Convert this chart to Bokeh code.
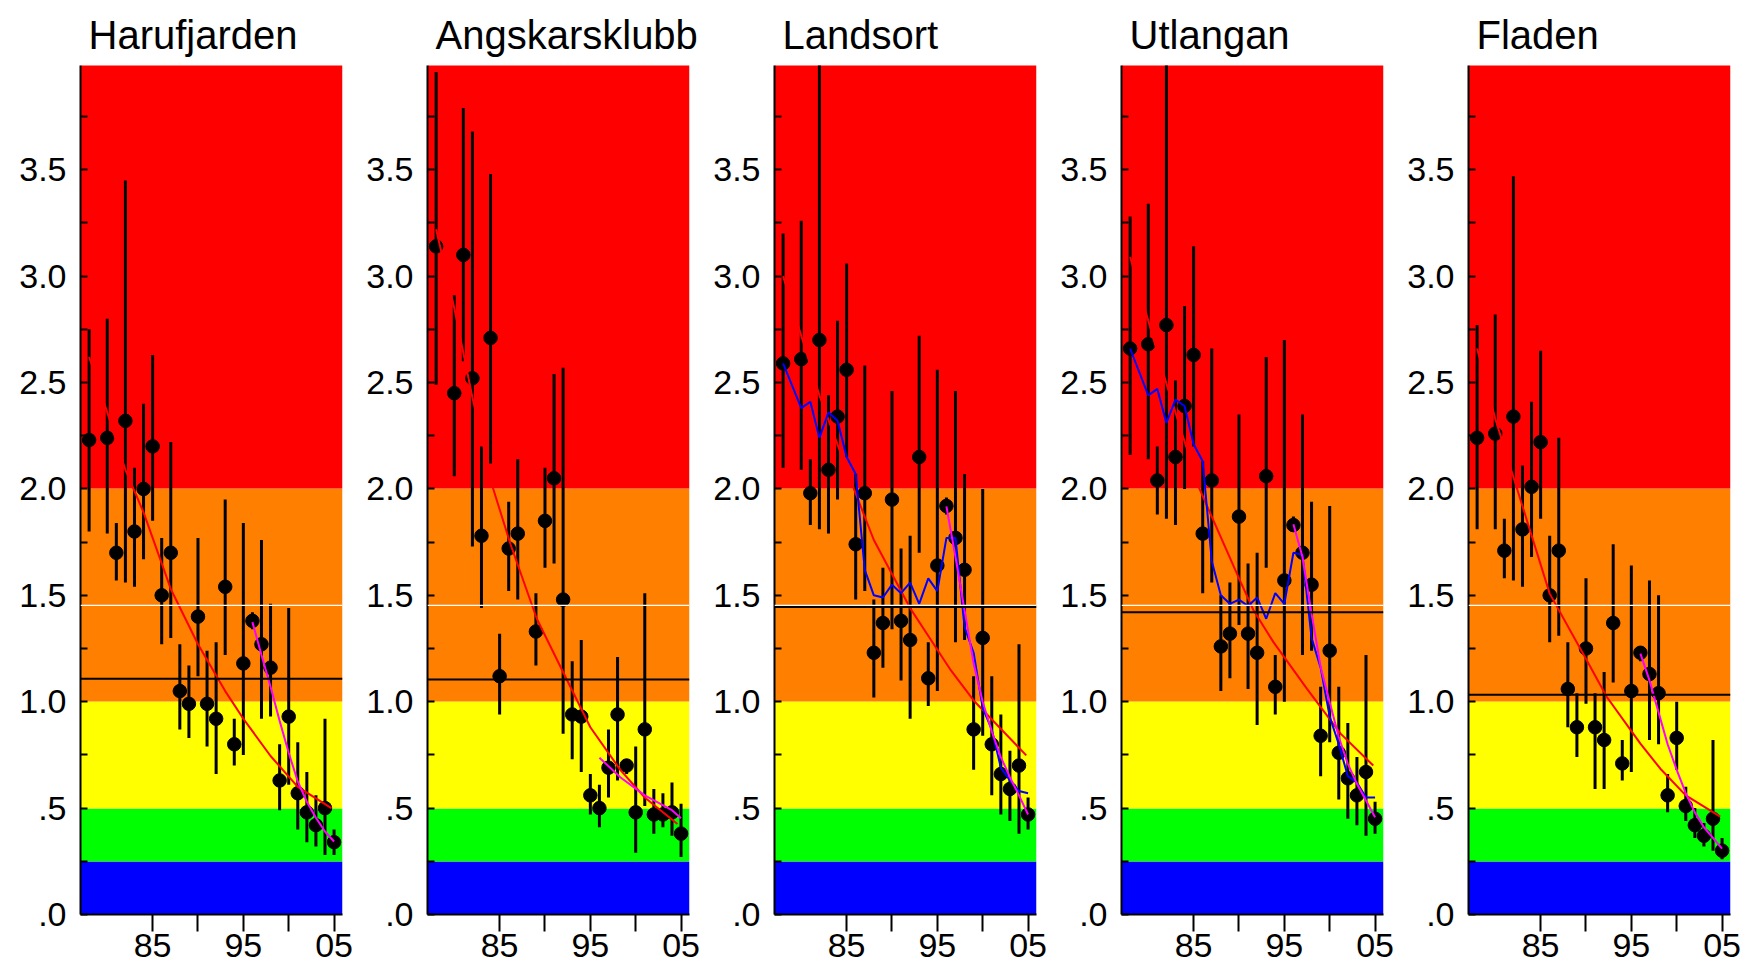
from bokeh.plotting import figure
from bokeh.layouts import row
from bokeh.models import Span, FixedTicker, Range1d, PrintfTickFormatter
from bokeh.embed import file_html
from bokeh.resources import INLINE

FONT = "Liberation Sans"

# ---- colour bands (status classes) ----
band_lo = [0.0, 0.25, 0.5, 1.0, 2.0]
band_hi = [0.25, 0.5, 1.0, 2.0, 4.0]
band_colors = ["#0000FF", "#00FF00", "#FFFF00", "#FF7F00", "#FF0000"]
target_level = 1.453

x_ticks = [1985, 1990, 1995, 2000, 2005]
x_tick_labels = {1985: "85", 1990: "", 1995: "95", 2000: "", 2005: "05"}
y_major = [0.0, 0.5, 1.0, 1.5, 2.0, 2.5, 3.0, 3.5]
y_minor = [0.25, 0.75, 1.25, 1.75, 2.25, 2.75, 3.25, 3.75]

stations = ["Harufjarden", "Angskarsklubb", "Landsort", "Utlangan", "Fladen"]

years_full = [1978, 1980, 1981, 1982, 1983, 1984, 1985, 1986, 1987, 1988, 1989,
              1990, 1991, 1992, 1993, 1994, 1995, 1996, 1997, 1998, 1999, 2000,
              2001, 2002, 2003, 2004, 2005]
years_angs = [1978, 1980, 1981, 1982, 1983, 1984, 1985, 1986, 1987, 1989,
              1990, 1991, 1992, 1993, 1994, 1995, 1996, 1997, 1998, 1999, 2000,
              2001, 2002, 2003, 2004, 2005]

# ---- Harufjarden ----
val_haru = [2.23, 2.24, 1.70, 2.32, 1.80, 2.00, 2.20, 1.50, 1.70, 1.05, 0.99, 1.40, 0.99, 0.92,
            1.54, 0.80, 1.18, 1.38, 1.27, 1.16, 0.63, 0.93, 0.57, 0.48, 0.42, 0.50, 0.34]
lo_haru = [1.80, 1.79, 1.57, 1.56, 1.54, 1.67, 1.85, 1.27, 1.30, 0.87, 0.83, 1.12, 0.79, 0.66,
           1.22, 0.70, 0.75, 1.34, 0.92, 0.93, 0.49, 0.61, 0.40, 0.34, 0.32, 0.28, 0.28]
hi_haru = [2.75, 2.80, 1.84, 3.45, 2.10, 2.40, 2.63, 1.77, 2.22, 1.27, 1.17, 1.77, 1.24, 1.28,
           1.95, 0.92, 1.84, 1.42, 1.76, 1.46, 0.80, 1.44, 0.81, 0.67, 0.56, 0.92, 0.40]
mean_haru = 1.108
fit_x_haru = [1978, 1980, 1982, 1984, 1987, 1990, 1993, 1995, 1998, 2001, 2004.7]
fit_y_haru = [2.62, 2.36, 2.09, 1.89, 1.53, 1.27, 1.05, 0.92, 0.745, 0.60, 0.50]
trend_x_haru = [1996, 1997, 1998, 1999, 2000, 2001, 2002, 2003, 2004, 2005]
trend_y_haru = [1.374, 1.22, 1.07, 0.91, 0.76, 0.625, 0.53, 0.455, 0.39, 0.343]

# ---- Angskarsklubb ----
val_angs = [3.14, 2.45, 3.10, 2.52, 1.78, 2.71, 1.12, 1.72, 1.79, 1.33, 1.85, 2.05, 1.48,
            0.94, 0.93, 0.56, 0.50, 0.69, 0.94, 0.70, 0.48, 0.87, 0.47, 0.47, 0.48, 0.38]
lo_angs = [2.49, 2.06, 2.60, 1.73, 1.44, 2.12, 0.94, 1.52, 1.48, 1.17, 1.63, 1.65, 0.85,
           0.73, 0.67, 0.47, 0.41, 0.55, 0.63, 0.66, 0.29, 0.51, 0.38, 0.41, 0.37, 0.27]
hi_angs = [3.96, 2.91, 3.79, 3.68, 2.20, 3.48, 1.32, 1.94, 2.14, 1.51, 2.10, 2.54, 2.57,
           1.19, 1.29, 0.66, 0.61, 0.87, 1.21, 0.73, 0.79, 1.51, 0.59, 0.57, 0.62, 0.52]
mean_angs = 1.105
fit_x_angs = [1978, 1980, 1982, 1984.3, 1986.2, 1989.1, 1992.1, 1995, 1998.3, 2001, 2004.6]
fit_y_angs = [3.22, 2.85, 2.43, 2.0, 1.74, 1.39, 1.13, 0.88, 0.68, 0.55, 0.425]
trend_x_angs = [1996, 1998.3, 2001, 2004, 2005]
trend_y_angs = [0.737, 0.645, 0.56, 0.49, 0.452]

# ---- Landsort ----
val_land = [2.59, 2.61, 1.98, 2.70, 2.09, 2.34, 2.56, 1.74, 1.98, 1.23, 1.37, 1.95, 1.38, 1.29,
            2.15, 1.11, 1.64, 1.92, 1.77, 1.62, 0.87, 1.30, 0.80, 0.66, 0.59, 0.70, 0.47]
lo_land = [2.10, 2.09, 1.83, 1.81, 1.79, 1.95, 2.15, 1.48, 1.52, 1.02, 1.16, 1.34, 1.10, 0.92,
           1.70, 0.98, 1.05, 1.88, 1.28, 1.29, 0.68, 0.84, 0.56, 0.47, 0.44, 0.38, 0.40]
hi_land = [3.20, 3.26, 2.14, 4.20, 2.44, 2.79, 3.06, 2.07, 2.58, 1.48, 1.63, 2.46, 1.72, 1.78,
           2.72, 1.28, 2.56, 1.96, 2.46, 2.07, 1.12, 2.00, 1.12, 0.94, 0.77, 1.27, 0.55]
smooth_land = [2.59, 2.38, 2.41, 2.24, 2.36, 2.32, 2.15, 2.07, 1.62, 1.50, 1.49, 1.55, 1.51, 1.56,
               1.46, 1.58, 1.52, 1.77, 1.77, 1.35, 1.23, 0.97, 0.87, 0.69, 0.63, 0.58, 0.57]
mean_land = 1.445
fit_x_land = [1978, 1980, 1982, 1985.8, 1988, 1992, 1994.3, 1996.5, 1999, 2004.8]
fit_y_land = [3.0, 2.72, 2.44, 2.0, 1.76, 1.44, 1.29, 1.147, 1.006, 0.748]
trend_x_land = [1996, 1997, 1998, 1999, 2000, 2001, 2002, 2003, 2004, 2005]
trend_y_land = [1.918, 1.68, 1.43, 1.18, 1.0, 0.86, 0.74, 0.645, 0.56, 0.47]

# ---- Utlangan ----
val_utla = [2.66, 2.68, 2.04, 2.77, 2.15, 2.39, 2.63, 1.79, 2.04, 1.26, 1.32, 1.87, 1.32, 1.23,
            2.06, 1.07, 1.57, 1.83, 1.70, 1.55, 0.84, 1.24, 0.76, 0.64, 0.56, 0.67, 0.45]
lo_utla = [2.16, 2.14, 1.88, 1.86, 1.83, 2.00, 2.20, 1.51, 1.56, 1.05, 1.11, 1.36, 1.06, 0.89,
           1.63, 0.94, 1.00, 1.80, 1.22, 1.24, 0.65, 0.81, 0.54, 0.45, 0.42, 0.37, 0.38]
hi_utla = [3.28, 3.34, 2.20, 4.20, 2.51, 2.86, 3.14, 2.13, 2.66, 1.50, 1.56, 2.35, 1.65, 1.70,
           2.62, 1.22, 2.70, 1.87, 2.35, 1.94, 1.07, 1.92, 1.07, 0.90, 0.74, 1.22, 0.53]
smooth_utla = [2.66, 2.44, 2.47, 2.31, 2.42, 2.39, 2.21, 2.13, 1.66, 1.50, 1.46, 1.48, 1.45, 1.49,
               1.39, 1.51, 1.46, 1.70, 1.69, 1.30, 1.16, 0.93, 0.80, 0.65, 0.62, 0.55, 0.55]
mean_utla = 1.42
fit_x_utla = [1978, 1980, 1982, 1985.65, 1990.1, 1991.6, 1993.8, 1997.5, 2001.2, 2004.8]
fit_y_utla = [3.09, 2.79, 2.495, 2.0, 1.57, 1.43, 1.28, 1.06, 0.85, 0.70]
trend_x_utla = [1996, 1997, 1998, 1999, 2000, 2001, 2002, 2003, 2004, 2005]
trend_y_utla = [1.834, 1.68, 1.414, 1.163, 0.998, 0.834, 0.708, 0.614, 0.536, 0.457]

# ---- Fladen ----
val_flad = [2.24, 2.26, 1.71, 2.34, 1.81, 2.01, 2.22, 1.50, 1.71, 1.06, 0.88, 1.25, 0.88, 0.82,
            1.37, 0.71, 1.05, 1.23, 1.13, 1.04, 0.56, 0.83, 0.51, 0.42, 0.37, 0.45, 0.30]
lo_flad = [1.81, 1.81, 1.58, 1.57, 1.54, 1.68, 1.86, 1.28, 1.31, 0.88, 0.74, 0.99, 0.59, 0.59,
           1.09, 0.63, 0.67, 1.19, 0.82, 0.80, 0.48, 0.68, 0.44, 0.36, 0.32, 0.30, 0.26]
hi_flad = [2.77, 2.82, 1.86, 3.47, 2.11, 2.41, 2.65, 1.78, 2.24, 1.28, 1.04, 1.58, 1.04, 1.14,
           1.74, 0.82, 1.64, 1.26, 1.57, 1.50, 0.66, 1.00, 0.60, 0.50, 0.43, 0.82, 0.36]
mean_flad = 1.033
fit_x_flad = [1978, 1980, 1982, 1986, 1990.1, 1992.3, 1996, 1998.2, 2001, 2004.8]
fit_y_flad = [2.66, 2.33, 2.056, 1.508, 1.194, 1.022, 0.803, 0.685, 0.56, 0.46]
trend_x_flad = [1996, 1997, 1998, 1999, 2000, 2001, 2002, 2003, 2004, 2005]
trend_y_flad = [1.226, 1.10, 0.95, 0.80, 0.68, 0.57, 0.48, 0.41, 0.36, 0.31]

panels = [
    (stations[0], years_full, val_haru, lo_haru, hi_haru, mean_haru, fit_x_haru, fit_y_haru, trend_x_haru, trend_y_haru, None),
    (stations[1], years_angs, val_angs, lo_angs, hi_angs, mean_angs, fit_x_angs, fit_y_angs, trend_x_angs, trend_y_angs, None),
    (stations[2], years_full, val_land, lo_land, hi_land, mean_land, fit_x_land, fit_y_land, trend_x_land, trend_y_land, smooth_land),
    (stations[3], years_full, val_utla, lo_utla, hi_utla, mean_utla, fit_x_utla, fit_y_utla, trend_x_utla, trend_y_utla, smooth_utla),
    (stations[4], years_full, val_flad, lo_flad, hi_flad, mean_flad, fit_x_flad, fit_y_flad, trend_x_flad, trend_y_flad, None),
]


def make_panel(title, yrs, val, lo, hi, mean, fx, fy, tx, ty, smooth, first=False):
    extra = 8 if first else 0
    p = figure(width=347 + extra, height=972, output_backend="svg", toolbar_location=None,
               x_range=Range1d(1977.05, 2005.93), y_range=Range1d(0, 3.99),
               min_border_left=72 + extra, min_border_right=13, min_border_top=65, min_border_bottom=58)
    p.outline_line_color = None
    p.grid.visible = False
    p.background_fill_color = "white"

    p.title.text = title
    p.title.align = "left"
    p.title.offset = 8
    p.title.standoff = 17
    p.title.text_font = FONT
    p.title.text_font_size = "40px"
    p.title.text_font_style = "normal"
    p.title.text_color = "black"

    for b0, b1, c in zip(band_lo, band_hi, band_colors):
        p.hstrip(y0=[b0], y1=[b1], fill_color=c, line_color=None)

    p.add_layout(Span(location=target_level, dimension="width", line_color="white", line_width=1.2))
    p.add_layout(Span(location=mean, dimension="width", line_color="black", line_width=2))

    p.segment(x0=yrs, y0=lo, x1=yrs, y1=hi, line_color="black", line_width=3)
    p.scatter(yrs, val, size=13.5, fill_color="black", line_color="black")

    p.line(fx, fy, line_color="#FF0000", line_width=2)
    if smooth is not None:
        p.line(yrs, smooth, line_color="#0000FF", line_width=2)
    p.line(tx, ty, line_color="#FF00FF", line_width=2)

    xa = p.xaxis[0]
    xa.ticker = FixedTicker(ticks=x_ticks, minor_ticks=[])
    xa.major_label_overrides = x_tick_labels
    xa.major_tick_in = 0
    xa.major_tick_out = 17
    xa.major_tick_line_width = 2
    xa.axis_line_width = 2
    xa.major_label_standoff = 2
    xa.major_label_text_font = FONT
    xa.major_label_text_font_size = "34px"
    xa.major_label_text_color = "black"

    ya = p.yaxis[0]
    ya.ticker = FixedTicker(ticks=y_major, minor_ticks=y_minor)
    ya.formatter = PrintfTickFormatter(format="%.1f")
    ya.major_label_overrides = {0.0: ".0", 0.5: ".5"}
    ya.major_tick_in = 7
    ya.major_tick_out = 0
    ya.minor_tick_in = 7
    ya.minor_tick_out = 0
    ya.major_tick_line_width = 2
    ya.minor_tick_line_width = 2
    ya.axis_line_width = 2
    ya.major_label_standoff = 14
    ya.major_label_text_font = FONT
    ya.major_label_text_font_size = "34px"
    ya.major_label_text_color = "black"
    return p


figs = [make_panel(*args, first=(i == 0)) for i, args in enumerate(panels)]
layout = row(*figs)

open("out.html", "w").write(file_html(layout, INLINE))
